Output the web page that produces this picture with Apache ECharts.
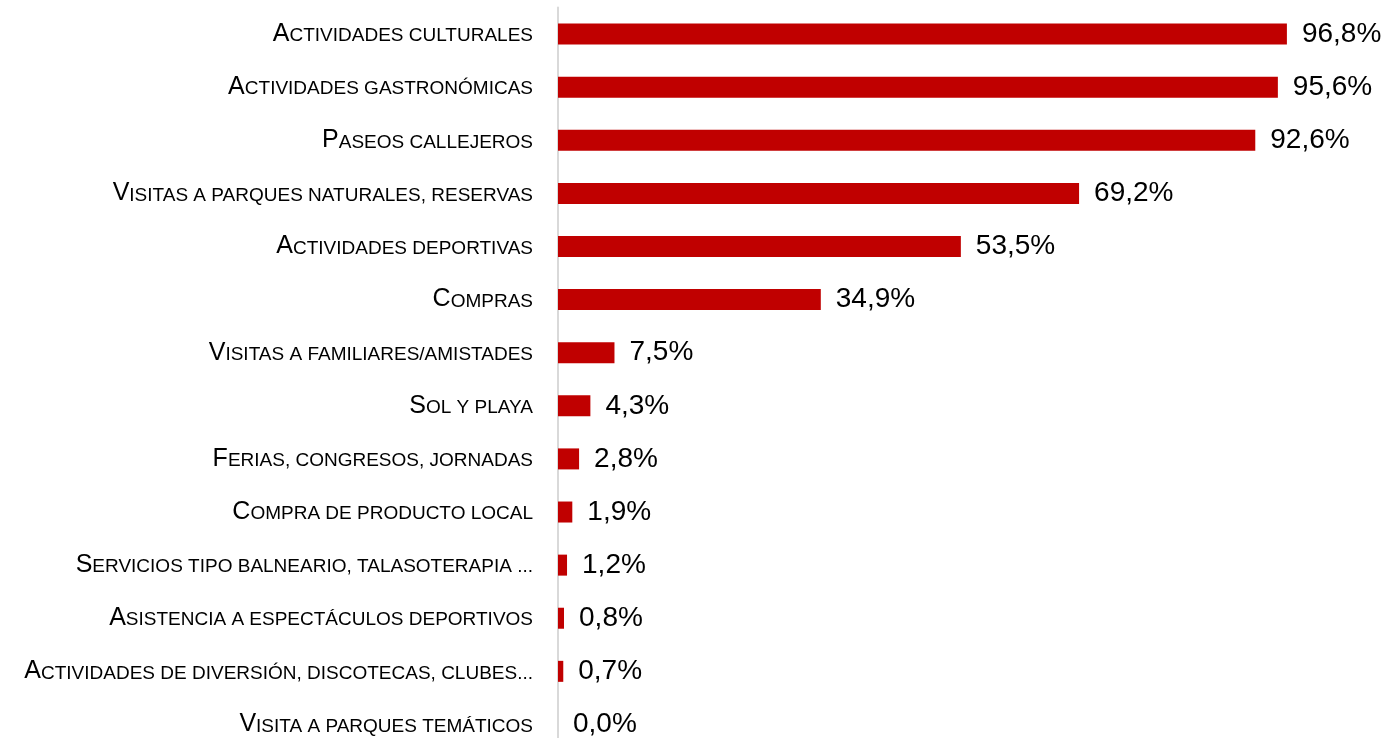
<!DOCTYPE html>
<html>
<head>
<meta charset="utf-8">
<script src="https://cdn.jsdelivr.net/npm/echarts@6/dist/echarts.min.js"></script>
<style>
html,body{margin:0;padding:0;background:#fff;overflow:hidden;}
#chart{width:1386px;height:751px;}
</style>
</head>
<body>
<div id="chart"></div>
<script>
var categories = [
	'Actividades culturales',
	'Actividades gastronómicas',
	'Paseos callejeros',
	'Visitas a parques naturales, reservas',
	'Actividades deportivas',
	'Compras',
	'Visitas a familiares/amistades',
	'Sol y playa',
	'Ferias, congresos, jornadas',
	'Compra de producto local',
	'Servicios tipo balneario, talasoterapia ...',
	'Asistencia a espectáculos deportivos',
	'Actividades de diversión, discotecas, clubes...',
	'Visita a parques temáticos'
];
var values = [96.8, 95.6, 92.6, 69.2, 53.5, 34.9, 7.5, 4.3, 2.8, 1.9, 1.2, 0.8, 0.7, 0.0];

var myChart = echarts.init(document.getElementById('chart'));

// small caps: first letter big, the rest uppercased smaller
function smallCaps(v){
	return '{a|' + v.charAt(0) + '}{b|' + v.slice(1).toUpperCase() + '}';
}

var option = {
	animation: false,
	grid: {
		left: 558,
		right: 75,
		top: 7.5,
		bottom: 0
	},
	xAxis: {
		type: 'value',
		min: 0,
		max: 100,
		show: false
	},
	yAxis: {
		type: 'category',
		inverse: true,
		data: categories,
		axisLine: {
			show: true,
			lineStyle: {color: '#d9d9d9', width: 2}
		},
		axisTick: {show: false},
		axisLabel: {
			margin: 25,
			formatter: smallCaps,
			rich: {
				a: {
					fontFamily: 'Liberation Sans',
					fontSize: 25,
					color: '#000',
					verticalAlign: 'bottom'
				},
				b: {
					fontFamily: 'Liberation Sans',
					fontSize: 19,
					color: '#000',
					verticalAlign: 'bottom',
					padding: [0, 0, 1, 0]
				}
			}
		}
	},
	series: [{
		type: 'bar',
		data: values,
		barWidth: 21,
		itemStyle: {color: '#c00000'},
		label: {
			show: true,
			position: 'right',
			distance: 15,
			fontFamily: 'Liberation Sans',
			fontSize: 28,
			color: '#000',
			formatter: function(p){
				return p.value.toFixed(1).replace('.', ',') + '%';
			}
		}
	}]
};
myChart.setOption(option);
</script>
</body>
</html>
